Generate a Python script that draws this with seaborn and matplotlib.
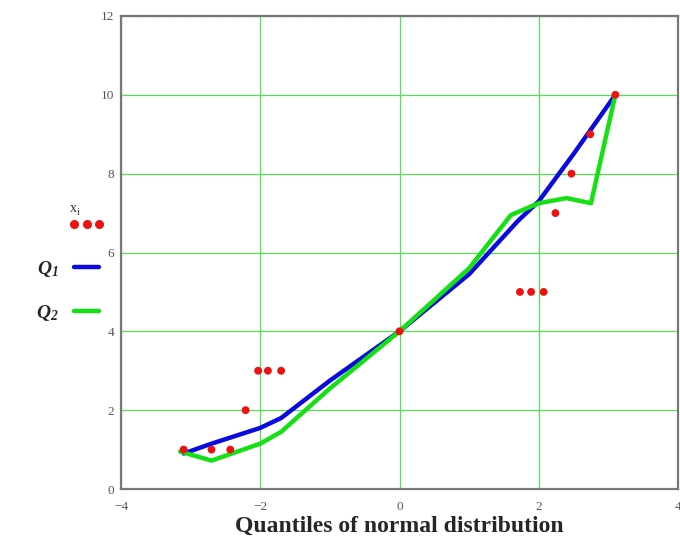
import matplotlib
matplotlib.use('Agg')
import matplotlib.pyplot as plt
from matplotlib.lines import Line2D
import seaborn as sns

# observed data vs normal quantiles
xq = [-3.1, -2.7, -2.43, -2.21, -2.03, -1.89, -1.7, 0.0, 1.73, 1.89, 2.07, 2.24, 2.47, 2.74, 3.1]
xi = [1, 1, 1, 2, 3, 3, 3, 4, 5, 5, 5, 7, 8, 9, 10]

# fitted curves
q1_x = [-3.1, -2.7, -2.0, -1.7, -1.0, 0.0, 1.0, 1.7, 2.0, 2.5, 3.1]
q1_y = [0.9, 1.15, 1.55, 1.8, 2.75, 4.0, 5.45, 6.8, 7.3, 8.5, 10.0]
q2_x = [-3.15, -2.7, -2.0, -1.7, -1.0, 0.0, 1.0, 1.6, 2.0, 2.4, 2.75, 3.1]
q2_y = [0.95, 0.72, 1.15, 1.45, 2.55, 4.0, 5.6, 6.95, 7.25, 7.38, 7.25, 10.0]

xticks = [-4, -2, 0, 2, 4]
yticks = [0, 2, 4, 6, 8, 10, 12]

sns.set_style('white')
plt.rcParams['font.family'] = ['Liberation Serif', 'DejaVu Serif']
plt.rcParams['mathtext.fontset'] = 'custom'
plt.rcParams['mathtext.it'] = 'Liberation Serif:italic:bold'
plt.rcParams['mathtext.rm'] = 'Liberation Serif:italic:bold'

fig = plt.figure(figsize=(6.8, 5.48), dpi=100)
ax = fig.add_axes([121 / 680, 59 / 548, 557 / 680, 473 / 548])

sns.lineplot(x=q1_x, y=q1_y, sort=False, color='#0a0adc', linewidth=3.2, ax=ax, label='$Q_1$')
sns.lineplot(x=q2_x, y=q2_y, sort=False, color='#14e014', linewidth=3.2, ax=ax, label='$Q_2$')
sns.scatterplot(x=xq, y=xi, color='#ee1111', s=32, edgecolor='none', ax=ax, zorder=5)

ax.set_xlim(-4, 4)
ax.set_ylim(0, 12)
ax.set_xticks(xticks)
ax.set_yticks(yticks)
ax.set_xticklabels(['\u2212' + str(abs(t)) if t < 0 else str(t) for t in xticks])
ax.grid(True, color='#55e055', linewidth=0.9)
ax.set_axisbelow(True)
for s in ax.spines.values():
    s.set_color('#777777')
    s.set_linewidth(1.6)
ax.tick_params(length=0, labelsize=9.5, labelcolor='#555555', pad=5)
ax.tick_params(axis='x', pad=9)
ax.set_xlabel('Quantiles of normal distribution', fontsize=17, fontweight='bold', labelpad=2)
ax.set_ylabel('')

h, l = ax.get_legend_handles_labels()
dots = Line2D([], [], linestyle='none', marker='o', markersize=5.5, color='#ee1111')
leg = ax.legend([dots] + h, [' '] + l, loc='upper right',
                bbox_to_anchor=(105 / 680, 1 - 217 / 548), bbox_transform=fig.transFigure,
                frameon=False, markerfirst=False, fontsize=14, handlelength=1.9,
                handletextpad=0.5, labelspacing=1.25, borderpad=0, borderaxespad=0,
                numpoints=3)
fig.text(70 / 680, 1 - 208 / 548, 'x', fontsize=10, color='#333333', va='center')
fig.text(77 / 680, 1 - 212 / 548, 'i', fontsize=7, color='#333333', va='center')

fig.savefig('out.png', dpi=100)
